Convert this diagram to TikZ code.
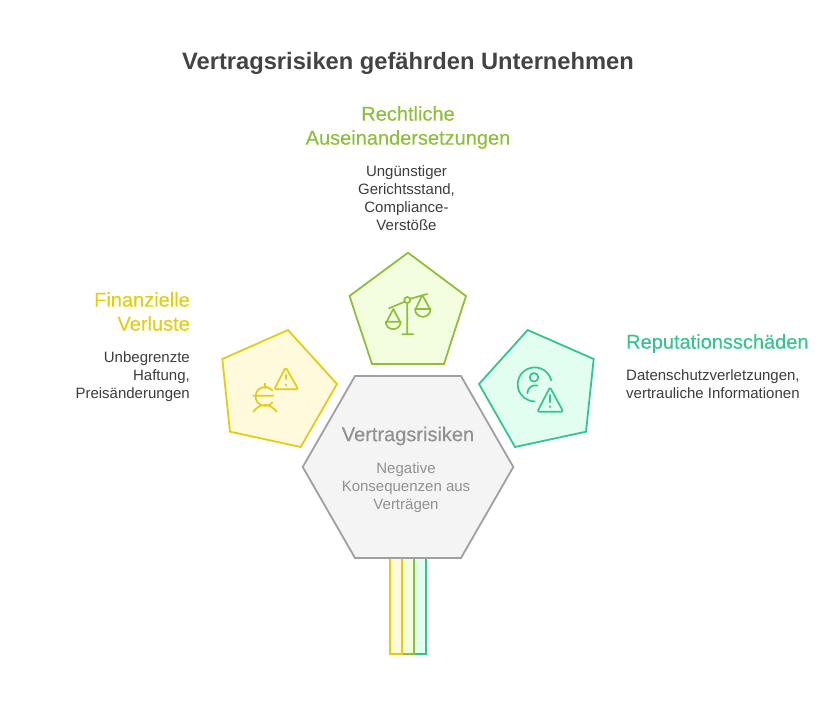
\documentclass[tikz,border=0pt]{standalone}
\usepackage{fontspec}
\setmainfont{Liberation Sans}
\newfontfamily\headfont[FakeBold=0.25]{Liberation Sans}
\usepackage{xcolor}
\usetikzlibrary{positioning}
\definecolor{titlegray}{RGB}{67,67,67}
\definecolor{bodygray}{RGB}{60,60,60}
\definecolor{hexgray}{RGB}{160,160,160}
\definecolor{hexfill}{RGB}{244,244,244}
\definecolor{hextext}{RGB}{145,145,145}
\definecolor{finyellow}{RGB}{228,204,16}
\definecolor{finfill}{RGB}{255,250,220}
\definecolor{lawgreen}{RGB}{142,190,58}
\definecolor{lawfill}{RGB}{243,254,222}
\definecolor{repteal}{RGB}{52,196,140}
\definecolor{repfill}{RGB}{225,254,240}
\tikzset{
  panel/.style={line width=1.8pt,line join=miter},
  icon/.style={line width=1.7pt,line cap=round,line join=round},
  head/.style={font=\headfont\fontsize{20}{24}\selectfont,inner sep=0pt},
  body/.style={font=\fontsize{15}{18}\selectfont,text=bodygray,inner sep=0pt},
}
\begin{document}
\begin{tikzpicture}[x=1pt,y=-1pt]
  \useasboundingbox (0,0) rectangle (835,702);
  % bars below the hexagon
  \draw[panel,draw=repteal,fill=repfill] (413.8,558) rectangle (426,654);
  \draw[panel,draw=lawgreen,fill=lawfill] (401.8,558) rectangle (413.8,654);
  \draw[panel,draw=finyellow,fill=finfill] (390,558) rectangle (401.8,654);
  % hexagon and pentagons
  \draw[panel,draw=hexgray,fill=hexfill] (355,376) -- (461,376) -- (513.3,467) -- (461,558) -- (355,558) -- (302.7,467) -- cycle;
  \draw[panel,draw=lawgreen,fill=lawfill] (408,252.7) -- (466,296) -- (444,364) -- (372,364) -- (349.5,296) -- cycle;
  \draw[panel,draw=finyellow,fill=finfill] (288,330) -- (337,384) -- (300.7,447) -- (230,431.7) -- (222.3,359) -- cycle;
  \draw[panel,draw=repteal,fill=repfill] (527.7,330) -- (593.7,359) -- (586,431.7) -- (515,447) -- (479,384) -- cycle;
  % texts
  \node[font=\fontsize{23.7}{28}\selectfont\bfseries,text=titlegray,inner sep=0pt] (title) at (408,63.5) {Vertragsrisiken gefährden Unternehmen};
  \node[head,text=lawgreen,align=center] (lawhead) at (408,127.5) {Rechtliche\\Auseinandersetzungen};
  \node[body,align=center,below=16pt of lawhead,xshift=-1.5pt] (lawtext) {Ungünstiger\\Gerichtsstand,\\Compliance-\\Verstöße};
  \node[head,text=finyellow,align=right,anchor=east] (finhead) at (190,311.5) {Finanzielle\\Verluste};
  \node[body,align=right,below left=20pt and 0pt of finhead.south east] (fintext) {Unbegrenzte\\Haftung,\\Preisänderungen};
  \node[head,text=repteal,anchor=west] (rephead) at (626,343.5) {Reputationsschäden};
  \node[body,align=left,below right=16pt and 0pt of rephead.south west] (reptext) {Datenschutzverletzungen,\\vertrauliche Informationen};
  \node[font=\headfont\fontsize{20}{24}\selectfont,text=hextext,inner sep=0pt] (hexhead) at (408,436) {Vertragsrisiken};
  \node[font=\fontsize{15}{18}\selectfont,text=hextext,align=center,inner sep=0pt] (hextxt) at (406,487.5) {Negative\\Konsequenzen aus\\Verträgen};
  % scales icon
  \draw[icon,draw=lawgreen] (407.3,303) -- (407.3,334.3) (402.3,334.3) -- (413.3,334.3)
    (389,308.3) -- (404.5,301.8) (410.2,298.8) -- (427.3,294) (407.3,300) circle (3)
    (393.3,309) -- (386.7,321.7) (393.3,309) -- (400,321.7)
    (385.7,321.7) -- (400.7,321.7) arc[start angle=0,end angle=180,radius=7.5]
    (422.3,295) -- (415.7,309) (422.3,295) -- (430,309)
    (415,309) -- (430.6,309) arc[start angle=0,end angle=180,radius=7.8];
  % euro and warning icon
  \draw[icon,draw=finyellow] (265,383.5) -- (265,388)
    (272.3,390.4) arc[start angle=-40,end angle=-320,radius=9.5]
    (253.3,395.7) -- (273.3,395.7)
    (253.3,411.7) .. controls (257,407) and (261,405) .. (265,405) .. controls (269,405) and (273,407) .. (276.7,411.7);
  \draw[icon,draw=finyellow,rounded corners=1.5pt] (285.7,367.3) -- (298.3,389.3) -- (274.3,389.3) -- cycle;
  \draw[icon,draw=finyellow] (286,375) -- (286,379) (286,384.6) -- (286,385.4);
  % person and warning icon
  \draw[icon,draw=repteal] (551.2,380.3) arc[start angle=-14,end angle=-270,radius=17]
    (534,377.3) circle (4.3)
    (527.3,393.3) arc[start angle=180,end angle=285,radius=8];
  \draw[icon,draw=repteal,rounded corners=2pt] (550,387.3) -- (563.3,411.7) -- (537.3,411.7) -- cycle;
  \draw[icon,draw=repteal] (550,395) -- (550,402.3) (550,406.3) -- (550,407.1);
\end{tikzpicture}
\end{document}
